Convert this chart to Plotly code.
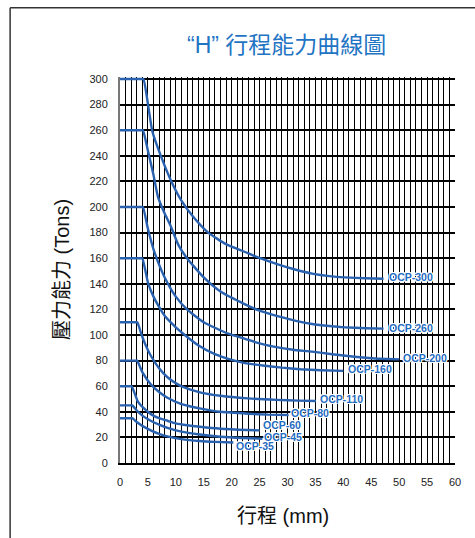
import plotly.graph_objects as go

# ---- data (stroke mm, capacity tons) ----
models = ["OCP-300", "OCP-260", "OCP-200", "OCP-160", "OCP-110", "OCP-80", "OCP-60", "OCP-45", "OCP-35"]

ocp300_x = [0, 3.9, 4.2, 5.8, 7.4, 9.2, 11, 13, 15.8, 19, 22.9, 25.1, 28.4, 31.5, 34.4, 37.5, 40.3, 44, 47.2]
ocp300_y = [300, 300, 300, 259, 239, 220, 205, 193, 180, 171, 164, 160, 155, 151, 148, 146, 145, 144.3, 144]

ocp260_x = [0, 3.8, 4.1, 5, 6, 6.8, 8, 9, 10.5, 12, 15, 18, 22.4, 25, 28.4, 31.5, 34.4, 37.5, 40.3, 44, 47.2]
ocp260_y = [260, 260, 260, 244, 225, 208, 195, 186, 170, 160, 145, 134, 124, 119, 114.5, 111, 108.6, 107, 106, 105.3, 105]

ocp200_x = [0, 3.8, 4.1, 5, 6, 7, 8, 10, 12, 15, 19.4, 22.4, 25, 28, 31, 34.4, 38, 42, 45.7, 50]
ocp200_y = [200, 200, 200, 183, 167, 155, 145, 130, 120, 110, 101, 97, 93.5, 90.5, 88.5, 87, 85, 83, 81.7, 81]

ocp160_x = [0, 3.7, 4.0, 5, 6, 7, 8, 10, 11.6, 14, 17, 20, 22.4, 26, 29, 32.3, 36, 40]
ocp160_y = [160, 160, 160, 141, 130, 122, 115, 106, 100, 92, 85, 80.5, 78, 76, 74.5, 73.3, 72.5, 72]

ocp110_x = [0, 2.8, 3.1, 3.8, 4.5, 5.5, 7, 8.5, 10.5, 12.5, 14.5, 18, 22.9, 28, 32, 35.1]
ocp110_y = [110, 110, 110, 101, 93, 84, 74, 67, 61, 57.5, 55, 52.5, 50.5, 49.3, 48.7, 48.5]

ocp80_x = [0, 2.75, 3.05, 4, 5.5, 7, 8.5, 11, 14.5, 18, 23, 26.5, 30.2]
ocp80_y = [80, 80, 80, 71, 61.5, 55.5, 51, 46, 42.5, 40, 38.5, 37.8, 37.5]

ocp60_x = [0, 1.85, 2.1, 3.2, 4.2, 5.6, 7, 8.5, 10, 12, 14.3, 18, 22.9, 25]
ocp60_y = [60, 60, 60, 48, 43, 38, 35, 33, 31, 29.5, 28.3, 26.8, 25.8, 25.5]

ocp45_x = [0, 1.95, 2.2, 3, 4, 5.5, 7, 8.5, 11, 14.3, 18, 22, 25.5]
ocp45_y = [45, 45, 45, 41, 37, 33, 30, 27.5, 24.5, 22.3, 20.5, 19.5, 19]

ocp35_x = [0, 1.95, 2.2, 3, 4, 5.5, 7, 8.5, 11, 14.3, 17, 20.3]
ocp35_y = [35, 35, 35, 32, 29, 25.5, 22.8, 20.8, 18.7, 17.2, 16.5, 16]

label_x = [52.2, 52.2, 54.7, 44.7, 39.7, 34.0, 29.1, 29.2, 24.1]
label_y = [145, 105.5, 82, 73.5, 50, 39, 29.7, 20.3, 13.3]

x_ticks = list(range(0, 61, 5))
y_ticks = list(range(0, 301, 20))

series = [
    (ocp300_x, ocp300_y), (ocp260_x, ocp260_y), (ocp200_x, ocp200_y),
    (ocp160_x, ocp160_y), (ocp110_x, ocp110_y), (ocp80_x, ocp80_y),
    (ocp60_x, ocp60_y), (ocp45_x, ocp45_y), (ocp35_x, ocp35_y),
]

LINE_COLOR = "#2a62b0"
LABEL_COLOR = "#1f6cc2"

fig = go.Figure()
for name, (xs, ys) in zip(models, series):
    fig.add_trace(go.Scatter(
        x=xs, y=ys, mode="lines", name=name, cliponaxis=False,
        line=dict(color=LINE_COLOR, width=2.4, shape="spline", smoothing=0.5),
        showlegend=False, hoverinfo="skip",
    ))

for name, lx, ly in zip(models, label_x, label_y):
    fig.add_annotation(
        x=lx, y=ly, xref="x", yref="y", text="<b>" + name + "</b>", showarrow=False,
        xanchor="center", yanchor="middle",
        font=dict(family="Liberation Sans, Arial, sans-serif", size=10.5, color=LABEL_COLOR,
                  shadow="1px 1px 0 #fff, -1px -1px 0 #fff, 1px -1px 0 #fff, -1px 1px 0 #fff"),
    )

# axis titles & chart title
fig.add_annotation(
    x=0.4985, y=1.083, xref="paper", yref="paper", showarrow=False,
    xanchor="center", yanchor="middle",
    text="“H” 行程能力曲線圖",
    font=dict(family="Liberation Sans, Noto Sans CJK TC, sans-serif", size=23, color="#1f74c4"),
)
fig.add_annotation(
    x=-0.173, y=0.5, xref="paper", yref="paper", showarrow=False, textangle=-90,
    xanchor="center", yanchor="middle",
    text="壓力能力 (Tons)",
    font=dict(family="Liberation Sans, Noto Sans CJK TC, sans-serif", size=20, color="#111"),
)
fig.add_annotation(
    x=0.487, y=-0.138, xref="paper", yref="paper", showarrow=False,
    xanchor="center", yanchor="middle",
    text="行程 (mm)",
    font=dict(family="Liberation Sans, Noto Sans CJK TC, sans-serif", size=20, color="#111"),
)

# outer frame (top and left edges)
fig.add_shape(type="line", xref="paper", yref="paper", x0=-0.328, x1=1.07, y0=1.1797, y1=1.1797,
              line=dict(color="#333", width=1.5))
fig.add_shape(type="line", xref="paper", yref="paper", x0=-0.328, x1=-0.328, y0=1.1797, y1=-0.2,
              line=dict(color="#333", width=1.5))

fig.update_xaxes(
    range=[0, 60], tickvals=x_ticks, ticktext=[str(v) for v in x_ticks],
    showgrid=True, gridcolor="#000", gridwidth=1.4,
    minor=dict(dtick=1, showgrid=True, gridcolor="#000", gridwidth=1.4, ticks=""),
    zeroline=False, showline=True, linecolor="#000", linewidth=1.5,
    ticks="", ticklabelstandoff=8,
    tickfont=dict(family="Liberation Sans, Arial, sans-serif", size=11, color="#222"),
)
fig.update_yaxes(
    range=[0, 301.6], tickvals=y_ticks, ticktext=[str(v) for v in y_ticks],
    showgrid=True, gridcolor="#000", gridwidth=1.5,
    zeroline=False, showline=True, linecolor="#777", linewidth=2,
    ticks="", ticklabelstandoff=8,
    tickfont=dict(family="Liberation Sans, Arial, sans-serif", size=11, color="#222"),
)

fig.update_layout(
    width=475, height=538,
    margin=dict(l=120, r=20, t=77, b=75),
    paper_bgcolor="white", plot_bgcolor="white",
)

fig.write_html("out.html", config={"displayModeBar": False},
               post_script="document.body.style.margin='0';document.body.style.overflow='hidden';")
